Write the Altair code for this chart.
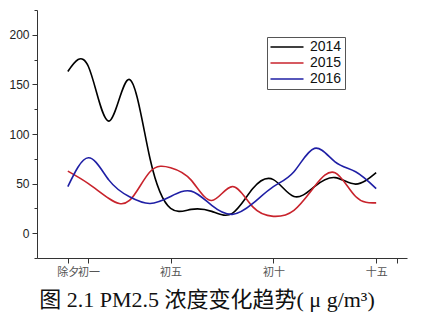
import altair as alt
import pandas as pd

days = list(range(16))
day_labels = {0: "除夕", 1: "初一", 5: "初五", 10: "初十", 15: "十五"}
pm_2014 = [163, 168, 113, 155, 75, 25, 24, 22, 20, 45, 54, 37, 47, 56, 49.5, 61]
pm_2015 = [62.6, 50, 35, 33, 62, 66, 53.5, 33, 47, 26.5, 17, 23, 47, 61, 37, 30.6]
pm_2016 = [47, 76, 53.5, 36.7, 30, 37, 42.4, 28, 19, 30, 47, 62, 85.5, 72, 62, 45]
years = ["2014", "2015", "2016"]
colors = ["#000000", "#c8232c", "#1f1fa5"]

rows = []
for yr, vals in zip(years, [pm_2014, pm_2015, pm_2016]):
    for d, v in zip(days, vals):
        rows.append({"day": d, "value": v, "year": yr})
df = pd.DataFrame(rows)

label_expr = ("datum.value == 0 ? '除夕' : datum.value == 1 ? '初一' : "
              "datum.value == 5 ? '初五' : datum.value == 10 ? '初十' : "
              "datum.value == 15 ? '十五' : ''")

chart = alt.Chart(df).mark_line(interpolate="natural", strokeWidth=1.6, clip=True).encode(
    x=alt.X("day:Q", scale=alt.Scale(domain=[-1.5, 16.5], nice=False, zero=False),
            axis=alt.Axis(values=[0, 1, 5, 10, 15, 16], labelExpr=label_expr, title=None,
                          grid=False, labelOverlap=False, labelFont="Noto Sans CJK SC",
                          labelFontSize=11, labelColor="#555555", tickSize=5,
                          labelPadding=3, domainColor="#333333", tickColor="#333333",
                          labelFlush=False)),
    y=alt.Y("value:Q", scale=alt.Scale(domain=[-25, 225], nice=False, zero=False),
            axis=alt.Axis(values=list(range(-25, 226, 25)),
                          labelExpr="datum.value % 50 == 0 && datum.value >= 0 ? datum.label : ''",
                          title=None, grid=False, labelFont="Liberation Sans",
                          labelFontSize=12, labelColor="#222222",
                          tickSize={"condition": {"test": "datum.value % 50 === 0", "value": 5}, "value": 3},
                          labelPadding=3, domainColor="#333333", tickColor="#333333",
                          labelFlush=False)),
    color=alt.Color("year:N", scale=alt.Scale(domain=years, range=colors),
                    legend=alt.Legend(title=None, orient="none", legendX=230, legendY=27,
                                      symbolType="M-3,0H3", symbolSize=121,
                                      symbolStrokeWidth=1.6, symbolOffset=10,
                                      labelOffset=16, labelFont="Liberation Sans",
                                      labelFontSize=14, labelColor="#111111",
                                      padding=3, rowPadding=2,
                                      strokeColor="#555555", fillColor="white")),
).properties(
    width=370, height=248,
    title=alt.TitleParams("图 2.1 PM2.5 浓度变化趋势( μ g/m³)", orient="bottom",
                          anchor="middle", fontSize=22, fontWeight="normal",
                          font="'Liberation Serif', 'Noto Sans CJK SC'", color="#111111",
                          dx=-15, offset=13),
    autosize=alt.AutoSizeParams(type="none"),
    padding={"left": 37, "top": 10, "right": 14, "bottom": 60},
).configure_view(stroke=None)

chart.save("out.html", embed_options={"renderer": "svg", "actions": False})
